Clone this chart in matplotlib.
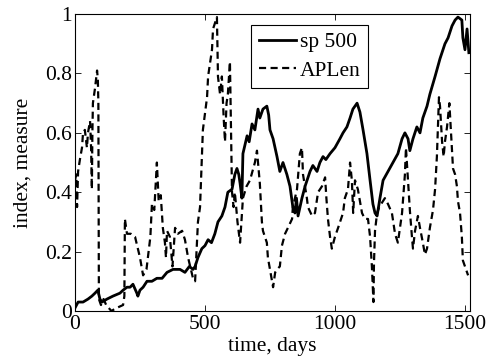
import matplotlib
matplotlib.use("Agg")
import matplotlib.pyplot as plt

plt.rcParams['font.family'] = ['Liberation Serif', 'DejaVu Serif']

sp_t = [0, 12, 31, 50, 65, 77, 88, 96, 104, 123, 146, 173, 185, 200, 212, 223, 238, 242, 250, 262,
        277, 296, 315, 335, 354, 377, 404, 423, 440, 454, 462, 473, 488, 500, 512, 525, 538, 550,
        565, 577, 588, 604, 615, 623, 630, 635, 642, 646, 662, 670, 681, 692, 704, 711, 723, 738,
        745, 750, 762, 777, 788, 800, 815, 827, 838, 846, 852, 858, 873, 885, 904, 915, 931, 942,
        954, 965, 981, 1000, 1019, 1031, 1046, 1058, 1069, 1085, 1096, 1108, 1123, 1135, 1146,
        1154, 1162, 1173, 1185, 1204, 1223, 1242, 1258, 1269, 1281, 1288, 1300, 1315, 1327, 1338,
        1354, 1365, 1385, 1404, 1423, 1435, 1450, 1462, 1473, 1488, 1492, 1500, 1508, 1515]
sp_v = [0.01, 0.03, 0.03, 0.04, 0.05, 0.06, 0.07, 0.04, 0.03, 0.04, 0.05, 0.06, 0.07, 0.08, 0.08,
        0.09, 0.06, 0.05, 0.07, 0.08, 0.10, 0.10, 0.11, 0.11, 0.13, 0.14, 0.14, 0.13, 0.15, 0.14,
        0.15, 0.18, 0.21, 0.22, 0.24, 0.23, 0.26, 0.30, 0.32, 0.35, 0.40, 0.41, 0.46, 0.48, 0.46,
        0.43, 0.38, 0.53, 0.59, 0.57, 0.63, 0.61, 0.68, 0.65, 0.68, 0.69, 0.66, 0.61, 0.58, 0.52,
        0.47, 0.50, 0.46, 0.42, 0.35, 0.33, 0.38, 0.32, 0.38, 0.42, 0.47, 0.49, 0.47, 0.50, 0.52,
        0.51, 0.53, 0.55, 0.58, 0.60, 0.62, 0.65, 0.68, 0.70, 0.67, 0.61, 0.53, 0.44, 0.36, 0.33,
        0.32, 0.38, 0.44, 0.47, 0.50, 0.53, 0.58, 0.60, 0.58, 0.54, 0.58, 0.62, 0.60, 0.65, 0.69,
        0.73, 0.79, 0.85, 0.90, 0.92, 0.96, 0.98, 0.99, 0.98, 0.92, 0.88, 0.95, 0.87]

ap_t = [0, 5, 8, 12, 19, 27, 31, 38, 46, 50, 58, 62, 65, 67, 69, 77, 85, 88, 90, 92, 100, 110, 120,
        140, 160, 185, 190, 192, 200, 215, 231, 250, 262, 275, 290, 296, 305, 315, 322, 330, 338,
        346, 350, 354, 365, 375, 385, 396, 412, 423, 435, 454, 462, 473, 481, 488, 492, 508, 512,
        527, 531, 546, 550, 558, 565, 572, 577, 583, 588, 596, 600, 604, 610, 615, 625, 635, 646,
        660, 673, 692, 700, 711, 719, 723, 738, 742, 750, 762, 770, 777, 788, 796, 808, 819, 835,
        838, 846, 854, 865, 873, 877, 892, 896, 912, 923, 935, 950, 962, 967, 973, 981, 988, 1000,
        1012, 1031, 1038, 1050, 1058, 1065, 1070, 1077, 1088, 1104, 1115, 1127, 1135, 1142, 1146,
        1148, 1150, 1154, 1162, 1170, 1192, 1204, 1219, 1231, 1242, 1258, 1269, 1273, 1281, 1288,
        1296, 1300, 1308, 1319, 1327, 1338, 1346, 1354, 1365, 1377, 1385, 1392, 1396, 1400, 1404,
        1412, 1418, 1423, 1431, 1440, 1450, 1454, 1462, 1469, 1473, 1481, 1488, 1492, 1500, 1512]
ap_v = [0.44, 0.46, 0.35, 0.47, 0.51, 0.55, 0.60, 0.61, 0.55, 0.60, 0.64, 0.55, 0.41, 0.60, 0.70,
        0.75, 0.81, 0.78, 0.70, 0.04, 0.02, 0.04, 0.02, 0.00, 0.01, 0.02, 0.05, 0.31, 0.26, 0.26,
        0.25, 0.18, 0.12, 0.14, 0.25, 0.36, 0.34, 0.50, 0.37, 0.39, 0.28, 0.23, 0.18, 0.27, 0.25,
        0.15, 0.28, 0.26, 0.27, 0.24, 0.18, 0.11, 0.10, 0.30, 0.35, 0.52, 0.61, 0.72, 0.79, 0.88,
        0.95, 0.99, 0.79, 0.73, 0.79, 0.65, 0.57, 0.70, 0.73, 0.84, 0.62, 0.40, 0.35, 0.40, 0.30,
        0.23, 0.38, 0.42, 0.44, 0.50, 0.54, 0.43, 0.30, 0.27, 0.23, 0.18, 0.14, 0.08, 0.13, 0.14,
        0.15, 0.22, 0.26, 0.28, 0.31, 0.35, 0.38, 0.41, 0.53, 0.55, 0.46, 0.38, 0.35, 0.32, 0.33,
        0.40, 0.42, 0.45, 0.38, 0.31, 0.25, 0.21, 0.25, 0.28, 0.33, 0.38, 0.41, 0.50, 0.44, 0.33,
        0.44, 0.41, 0.33, 0.31, 0.31, 0.25, 0.15, 0.07, 0.03, 0.16, 0.27, 0.33, 0.35, 0.38, 0.36,
        0.33, 0.26, 0.23, 0.33, 0.46, 0.55, 0.44, 0.34, 0.25, 0.21, 0.27, 0.32, 0.28, 0.23, 0.19,
        0.21, 0.28, 0.34, 0.41, 0.52, 0.62, 0.72, 0.69, 0.57, 0.52, 0.57, 0.62, 0.70, 0.54, 0.48,
        0.46, 0.42, 0.37, 0.33, 0.25, 0.17, 0.15, 0.12]

x_ticks = [0, 500, 1000, 1500]
y_ticks = [0, 0.2, 0.4, 0.6, 0.8, 1]
y_tick_labels = ['0', '0.2', '0.4', '0.6', '0.8', '1']

fig = plt.figure(figsize=(4.9, 3.62), dpi=100)
ax = fig.add_axes([0.153, 0.141, 0.806, 0.820])

ax.plot(sp_t, sp_v, color='black', lw=2.0, label='sp 500')
ax.plot(ap_t, ap_v, color='black', lw=1.6, dashes=(3.2, 2.0), label='APLen')

ax.set_xlim(0, 1519)
ax.set_ylim(0, 1)
ax.set_xticks(x_ticks)
ax.set_xticklabels([str(v) for v in x_ticks])
ax.set_yticks(y_ticks)
ax.set_yticklabels(y_tick_labels)
ax.tick_params(direction='in', top=True, right=True, labelsize=15.5, length=4, width=0.6)
ax.tick_params(axis='y', pad=2)
ax.tick_params(axis='x', pad=3)
for s in ax.spines.values():
    s.set_linewidth(0.8)

ax.set_xlabel('time, days', fontsize=15.5, labelpad=2)
ax.set_ylabel('index, measure', fontsize=15.5, labelpad=9)

leg = ax.legend(loc='upper left', bbox_to_anchor=(0.446, 0.965), fontsize=15.5,
                frameon=True, fancybox=False, edgecolor='black', framealpha=1,
                handlelength=1.75, handletextpad=0.15, borderpad=0.35, labelspacing=0.4,
                borderaxespad=0)
leg.get_frame().set_linewidth(0.8)

fig.savefig('out.png', dpi=100)
